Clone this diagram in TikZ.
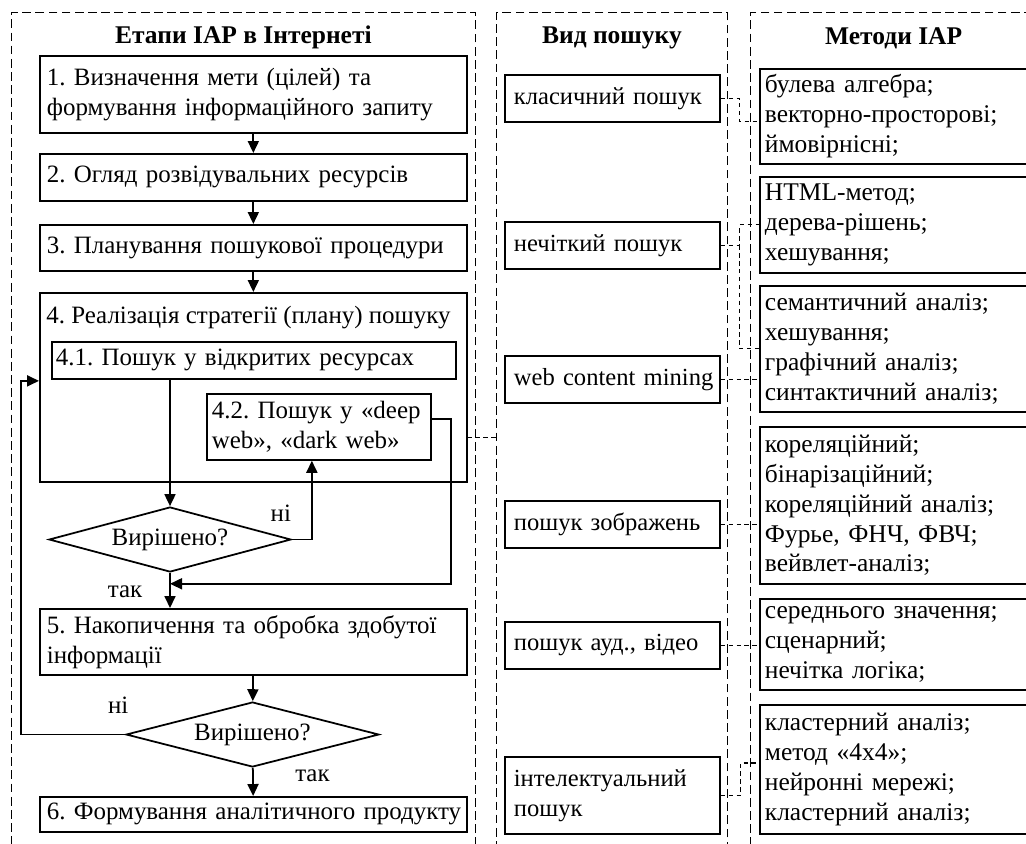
\documentclass[tikz,border=0pt]{standalone}
\usepackage{fontspec}
\setmainfont{Liberation Serif}
\usetikzlibrary{shapes.geometric, arrows.meta, positioning, calc}
\newcommand{\diagfont}{\fontsize{14.2pt}{17pt}\selectfont\frenchspacing}
\newcommand{\kindfont}{\fontsize{14pt}{17pt}\selectfont\frenchspacing}
\newcommand{\methodfont}{\fontsize{14.5pt}{17pt}\selectfont\frenchspacing}
\tikzset{
    panel/.style={rectangle, draw, dash pattern=on 5pt off 2.5pt, line width=0.8pt,
        anchor=north west, minimum height=17.4cm},
    heading/.style={font=\methodfont\bfseries},
    stage/.style={rectangle, draw, line width=1pt, anchor=north west,
        inner xsep=0.14cm, inner ysep=0pt, align=left, text width=#1},
    kind/.style={rectangle, draw, line width=1pt, anchor=north west, font=\kindfont,
        inner xsep=0.18cm, inner ysep=0pt, align=left, text width=3.94cm},
    method/.style={rectangle, draw, line width=1pt, anchor=north west, font=\methodfont,
        inner xsep=0.1cm, inner ysep=0pt, align=left, text width=5.42cm},
    check/.style={diamond, draw, line width=1pt, inner sep=0pt, minimum height=1.3cm},
    arrow/.style={-{Triangle[length=2.4mm, width=2.2mm]}, line width=1pt},
    link/.style={dash pattern=on 2.5pt off 2pt, line width=0.7pt},
    answer/.style={inner sep=0pt}
}

\begin{document}
\begin{tikzpicture}[x=0.02cm, y=-0.02cm, font=\diagfont]
    \useasboundingbox (0,0) rectangle (1026,843);
    \clip (0,0) rectangle (1026,843);

    % dashed columns
    \node[panel, minimum width=9.29cm] (p1) at (10.5,12) {};
    \node[panel, minimum width=4.63cm] (p2) at (495.5,12) {};
    \node[panel, minimum width=5.72cm] (p3) at (750,12) {};
    \node[heading] (t1) at ([yshift=-0.5cm]p1.north) {Етапи ІАР в Інтернеті};
    \node[heading] (t2) at ([yshift=-0.52cm]p2.north) {Вид пошуку};
    \node[heading] (t3) at ([yshift=-0.52cm]p3.north) {Методи ІАР};

    % stages
    \node[stage=8.26cm, minimum height=1.54cm] (s1) at (39,55) {1. Визначення мети (цілей) та\\формування інформаційного запиту};
    \node[stage=8.26cm, minimum height=0.94cm] (s2) at (39,153) {2. Огляд розвідувальних ресурсів};
    \node[stage=8.26cm, minimum height=0.92cm] (s3) at (39,224) {3. Планування пошукової процедури};
    \node[stage=8.26cm, minimum height=3.78cm] (s4) at (39,292) {};
    \node[answer, anchor=west] (s4t) at ([xshift=0.14cm, yshift=-0.52cm]s4.north west) {4. Реалізація стратегії (плану) пошуку};
    \node[stage=7.92cm, inner xsep=0.08cm, minimum height=0.74cm] (s41) at (51,341) {4.1. Пошук у відкритих ресурсах};
    \node[stage=4.28cm, inner xsep=0.1cm, minimum height=1.32cm] (s42) at (206,393) {\makebox[4.28cm][s]{4.2. Пошук у «deep}\\web», «dark web»};
    \node[check, aspect=3.7, minimum width=4.84cm] (d1) at (170,539.5) {Вирішено?};
    \node[stage=8.26cm, minimum height=1.32cm] (s5) at (39,608) {5. Накопичення та обробка здобутої\\інформації};
    \node[check, aspect=3.9, minimum width=5.06cm] (d2) at (252.5,734.5) {Вирішено?};
    \node[stage=8.26cm, minimum height=0.7cm] (s6) at (39,796) {\mbox{6. Формування аналітичного продукту}};

    \node[answer] (no1) at ([xshift=-0.22cm, yshift=0.53cm]d1.east) {ні};
    \node[answer] (yes1) at ([xshift=-0.9cm, yshift=-0.38cm]d1.south) {так};
    \node[answer] (no2) at ([xshift=-0.14cm, yshift=0.58cm]d2.west) {ні};
    \node[answer] (yes2) at ([xshift=1.2cm, yshift=-0.16cm]d2.south) {так};

    \path (d1.south) -- (d1.south |- s5.north) coordinate[pos=0.31] (join);

    \draw[arrow] (s1) -- (s2);
    \draw[arrow] (s2) -- (s3);
    \draw[arrow] (s3) -- (s4);
    \draw[arrow] (s41.south -| d1.north) -- (d1.north);
    \draw[arrow] (d1.east) -| ([xshift=-0.14cm]s42.south);
    \draw[arrow] ([yshift=0.16cm]s42.east) -- ++(19,0) |- (join);
    \draw[arrow] (d1.south) -- (d1.south |- s5.north);
    \draw[arrow] (s5) -- (d2);
    \draw[arrow] (d2.west) -- ++(-104,0) |- ([yshift=0.13cm]s4.west);
    \draw[arrow] (d2) -- (s6);
    \draw[link] ([yshift=-1.01cm]s4.east) -- ([yshift=-1.01cm]s4.east -| p2.west);

    % kinds of search
    \node[kind, minimum height=0.94cm] (k1) at (504,74) {класичний пошук};
    \node[kind, minimum height=0.94cm] (k2) at (504,221) {нечіткий пошук};
    \node[kind, minimum height=0.94cm] (k3) at (504,355) {\mbox{web content mining}};
    \node[kind, minimum height=0.94cm] (k4) at (504,500) {пошук зображень};
    \node[kind, minimum height=0.94cm] (k5) at (504,621) {пошук ауд., відео};
    \node[kind, minimum height=1.54cm] (k6) at (504,756) {інтелектуальний\\пошук};

    % methods
    \node[method, minimum height=1.9cm] (mA) at (759,68) {булева алгебра;\\векторно-просторові;\\ймовірнісні;};
    \node[method, minimum height=1.92cm] (mB) at (759,176) {HTML-метод;\\дерева-рішень;\\хешування;};
    \node[method, minimum height=2.52cm] (mC) at (759,285) {семантичний аналіз;\\хешування;\\графічний аналіз;\\синтактичний аналіз;};
    \node[method, minimum height=3.14cm] (mD) at (759,426) {кореляційний;\\бінарізаційний;\\кореляційний аналіз;\\Фурье, ФНЧ, ФВЧ;\\вейвлет-аналіз;};
    \node[method, minimum height=1.82cm] (mE) at (759,598) {середнього значення;\\сценарний;\\нечітка логіка;};
    \node[method, minimum height=2.58cm] (mF) at (759,704) {кластерний аналіз;\\метод «4х4»;\\нейронні мережі;\\кластерний аналіз;};

    \draw[link] (k1.east) -- ++(19,0) |- ([yshift=-0.11cm]mA.west);
    \draw[link] (k2.east) -- ++(19,0) coordinate (fork) |- (mB.west);
    \draw[link] (fork) |- (mC.west);
    \draw[link] (k3.east) -- (k3.east -| mC.west);
    \draw[link] (k4.east) -- (k4.east -| mD.west);
    \draw[link] (k5.east) -- (k5.east -| mE.west);
    \draw[link] (k6.east) -- ++(20,0) |- ([yshift=0.13cm]mF.west);
\end{tikzpicture}
\end{document}
